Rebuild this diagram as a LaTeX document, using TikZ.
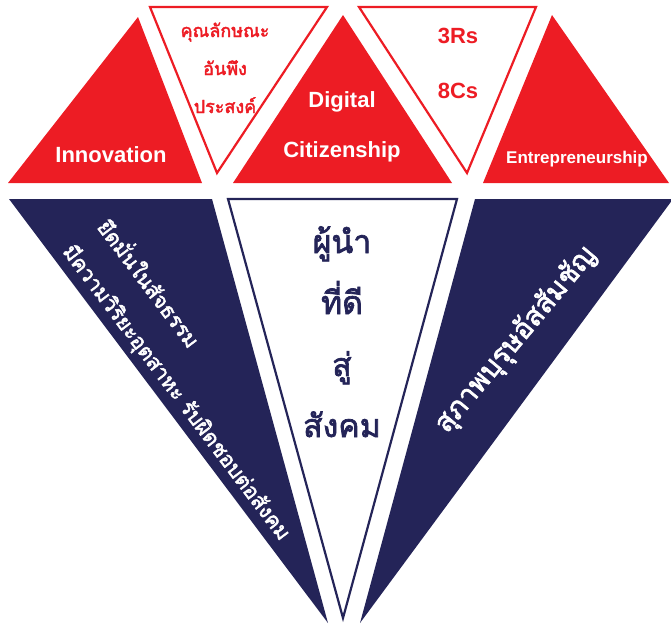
\documentclass[tikz,border=0pt]{standalone}
\usepackage{fontspec}
\setmainfont{Liberation Sans}
\newfontfamily\thaifont[Script=Thai,FakeBold=2.2]{Loma}
\usetikzlibrary{positioning}

\definecolor{gemred}{RGB}{237,28,36}
\definecolor{gemnavy}{RGB}{36,36,88}

\tikzset{
  facet/.style={fill=#1,draw=none},
  hollow/.style={draw=#1,line width=2.2pt,fill=white,line join=miter},
  eng/.style={font=\bfseries\fontsize{#1}{#1}\selectfont,anchor=base,inner sep=0pt},
  thai/.style={font=\thaifont\fontsize{#1}{#1}\selectfont,inner sep=0pt},
}

\begin{document}
\begin{tikzpicture}[x=1pt,y=-1pt]

  \useasboundingbox (0,0) rectangle (671,627);
%
  % top row: red facets
  \fill [facet=gemred] (8,183) -- (138,17) -- (202,183) -- cycle ;
  \fill [facet=gemred] (233,183) -- (343,15) -- (452,183) -- cycle ;
  \fill [facet=gemred] (483,183) -- (552,15) -- (669,183) -- cycle ;
%
  \draw [hollow=gemred] (150,7) -- (327,7) -- (217,173) -- cycle ;
  \draw [hollow=gemred] (359,7) -- (536,7) -- (467,173) -- cycle ;
%
  % bottom row: navy facets
  \fill [facet=gemnavy] (9,199) -- (212,199) -- (328,623) -- cycle ;
  \fill [facet=gemnavy] (475,199) -- (673,199) -- (360,623) -- cycle ;
  \draw [hollow=gemnavy] (228,199) -- (457,199) -- (343,618) -- cycle ;
%
  \node [eng=22,white] (innov) at (111,162) {Innovation} ;
  \node [eng=22,white] (digi)  at (342,107) {Digital} ;
  \node [eng=22,white] (citiz) at (342,157) {Citizenship} ;
  \node [eng=17,white] (entre) at (577,163) {Entrepreneurship} ;
%
  \node [eng=22,gemred] (rs) at (458,43) {3Rs} ;
  \node [eng=22,gemred] (cs) at (458,98) {8Cs} ;
%
  \node [thai=18,anchor=base,gemred] (kun)   at (225,37)  {คุณลักษณะ} ;
  \node [thai=18,anchor=base,gemred] (anpung) at (225,75)  {อันพึง} ;
  \node [thai=18,anchor=base,gemred] (prasong) at (225,113) {ประสงค์} ;
%
  \node [thai=32,anchor=base,gemnavy] (phunam) at (342,253) {ผู้นำ} ;
  \node [thai=32,anchor=base,gemnavy] (tidi)   at (342,314) {ที่ดี} ;
  \node [thai=32,anchor=base,gemnavy] (su)     at (342,376) {สู่} ;
  \node [thai=32,anchor=base,gemnavy] (sangkhom) at (342,437) {สังคม} ;
%
  \node [thai=21,white,rotate=-53] (yuet) at (151,282) {ยึดมั่นในสัจธรรม} ;
  \node [thai=21,white,rotate=-53] (mikhwam) at (176,393)
        {มีความวิริยะอุตสาหะ รับผิดชอบต่อสังคม} ;
  \node [thai=28,white,rotate=50] (suphap) at (516,340) {สุภาพบุรุษอัสสัมชัญ} ;

\end{tikzpicture}
\end{document}
